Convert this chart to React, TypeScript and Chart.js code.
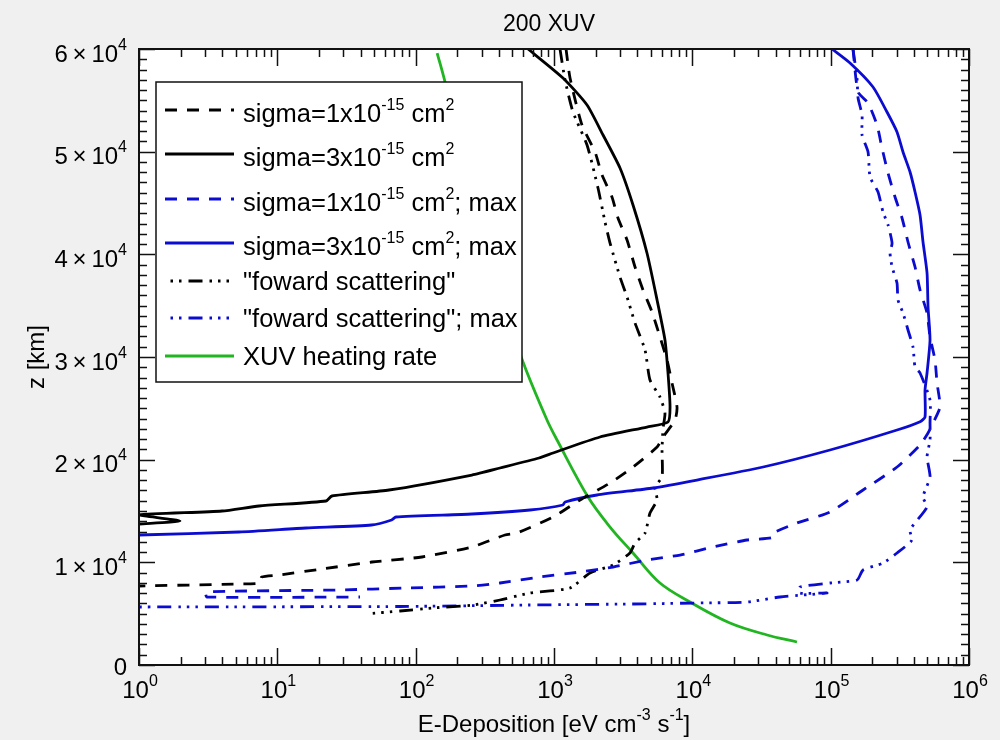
import React, { useEffect, useRef } from 'react';
import { Chart, registerables } from 'chart.js';

Chart.register(...registerables);

// ---------- text ----------
const TITLE = '200 XUV';
const X_TITLE = 'E-Deposition [eV cm^{-3} s^{-1}]';
const Y_TITLE = 'z [km]';

// ---------- ticks ----------
const xMajorTicks = [1, 10, 100, 1000, 10000, 100000, 1000000];
const xTickLabels = ['10^0', '10^1', '10^2', '10^3', '10^4', '10^5', '10^6'];
const xMinorMultipliers = [2, 3, 4, 5, 6, 7, 8, 9];
const yMajorTicks = [0, 10000, 20000, 30000, 40000, 50000, 60000];
const yTickLabels = [
  '0',
  '1\u2009×\u200910^4',
  '2\u2009×\u200910^4',
  '3\u2009×\u200910^4',
  '4\u2009×\u200910^4',
  '5\u2009×\u200910^4',
  '6\u2009×\u200910^4',
];
const yMinorStep = 1000;

// ---------- legend labels ----------
const seriesLabels = [
  'sigma=1x10^{-15} cm^2',
  'sigma=3x10^{-15} cm^2',
  'sigma=1x10^{-15} cm^2; max',
  'sigma=3x10^{-15} cm^2; max',
  '"foward scattering"',
  '"foward scattering"; max',
  'XUV heating rate',
];

// ---------- series (E-deposition, altitude in km) ----------
const sigma1Dep = [1222, 1306, 1593, 1981, 2224, 2625, 2901, 3372, 3853, 4400, 5113, 5837, 6561, 7130, 7748, 7500, 6138, 5560, 3725, 2542, 1542, 984, 540, 442, 255, 111, 48.3, 21.0, 10.3, 7.7, 7.5, 5.28, 1];
const sigma1Alt = [60000, 57174, 52596, 49966, 47726, 45583, 43538, 41395, 38765, 36525, 34382, 31947, 29707, 27467, 25129, 23863, 22207, 21233, 19285, 17727, 16071, 14415, 12857, 12662, 11493, 10519, 10032, 9350, 8766, 8571, 7987, 7890, 7695];

const sigma3Dep = [649, 1161, 1733, 2262, 3000, 3725, 4700, 5560, 6340, 6670, 6900, 6670, 4700, 2150, 984, 779, 407, 255, 64.2, 24.8, 22.5, 7.37, 3.98, 1.0, 1.98, 1.0];
const sigma3Alt = [60000, 57174, 54545, 51622, 48408, 44804, 40129, 35551, 31655, 28441, 25129, 23668, 23181, 22207, 20649, 20162, 19188, 18506, 17045, 16461, 15974, 15487, 15000, 14610, 14026, 13733];

const sigma1MaxDep = [145000, 157800, 186300, 216400, 235000, 259900, 291900, 328000, 362300, 407400, 442700, 497400, 522700, 567700, 587400, 617000, 549400, 505700, 442700, 302000, 171400, 98900, 57100, 38300, 37500, 24800, 14100, 8150, 4700, 2672, 1542, 792, 407, 255, 85, 27.9, 3.05, 3.1, 39.6];
const sigma1MaxAlt = [60000, 55810, 54739, 52596, 50356, 47921, 45583, 43538, 41200, 38765, 36525, 34285, 31947, 29707, 27467, 25129, 23571, 22597, 21428, 19285, 17045, 14902, 13831, 12857, 12400, 12175, 11493, 10714, 10227, 9545, 9058, 8571, 7987, 7695, 7500, 7305, 7110, 6623, 6623];

const sigma3MaxDep = [102300, 138000, 202400, 255400, 301700, 333500, 374800, 407400, 442700, 465200, 497400, 505700, 522700, 497400, 481000, 481000, 442700, 302000, 98900, 32500, 10800, 5200, 2047, 1202, 1161, 671, 255, 72, 67, 48, 16.1, 5.28, 1.0];
const sigma3MaxAlt = [60000, 58635, 56297, 53862, 51914, 49966, 48018, 46070, 43830, 41200, 38181, 34869, 31655, 28441, 26785, 24155, 23700, 22889, 20941, 19285, 18019, 17240, 16558, 15877, 15584, 15097, 14707, 14415, 14123, 13636, 13344, 12954, 12662];

const fwdDep = [1105, 1202, 1372, 1733, 2080, 2338, 2542, 3000, 3372, 3853, 4550, 4943, 5837, 6340, 6138, 6040, 6040, 5370, 5560, 4943, 4550, 3853, 3540, 2672, 1820, 1306, 671, 407, 260, 133, 77, 43.7];
const fwdAlt = [60000, 56978, 53862, 50648, 46460, 43148, 41103, 37791, 35843, 33311, 30681, 27759, 26103, 24545, 23000, 20941, 18311, 17337, 16071, 14805, 12857, 11883, 10909, 9740, 8961, 7500, 7013, 6331, 5844, 5552, 5260, 4967];

const fwdMaxDep = [145000, 155000, 157800, 168600, 168600, 186300, 192600, 220000, 239100, 259900, 277900, 268700, 277900, 301700, 306800, 333500, 362300, 393800, 407400, 442700, 522700, 522700, 522700, 497400, 522700, 465200, 497400, 374800, 387000, 302000, 239300, 171400, 155200, 98900, 60000, 60000, 94200, 43000, 24800, 10800, 3540, 671, 77, 1];
const fwdMaxAlt = [60000, 57174, 55226, 53570, 51622, 49966, 47531, 46070, 44122, 42856, 41103, 40129, 38765, 37207, 35551, 34285, 32629, 30973, 29025, 28441, 25811, 23571, 21915, 20259, 18311, 16363, 15389, 13149, 12175, 10909, 9935, 9253, 8279, 7987, 7597, 7013, 7013, 6623, 6136, 6039, 5941, 5844, 5700, 5650];

const heatDep = [143, 163, 214, 263, 331, 437, 597, 890, 1052, 1762, 2542, 3725, 5837, 9620, 18700, 34700, 57100];
const heatAlt = [59600, 56784, 50000, 45000, 40000, 35000, 29512, 23863, 21915, 16363, 13441, 10909, 7987, 6136, 4091, 2922, 2240];

// ---------- styles ----------
const BLACK = '#000000';
const BLUE = '#0c0cd0';
const GREEN = '#22b522';
const DASH = [12, 10];
const DASH_DOTS = [14, 7, 2.5, 6, 2.5, 6, 2.5, 7];
const FONT = '"Liberation Sans", Arial, Helvetica, sans-serif';

type Seg = { t: string; sup: boolean };
function richParse(s: string): Seg[] {
  const segs: Seg[] = [];
  let buf = '';
  let i = 0;
  while (i < s.length) {
    const c = s[i];
    if (c === '^') {
      if (buf) { segs.push({ t: buf, sup: false }); buf = ''; }
      if (s[i + 1] === '{') {
        const j = s.indexOf('}', i + 2);
        segs.push({ t: s.slice(i + 2, j), sup: true });
        i = j + 1;
      } else {
        segs.push({ t: s[i + 1], sup: true });
        i += 2;
      }
    } else { buf += c; i++; }
  }
  if (buf) segs.push({ t: buf, sup: false });
  return segs;
}

function drawRich(
  ctx: CanvasRenderingContext2D, s: string, x: number, y: number,
  F: number, S: number, R: number, align: 'left' | 'center' | 'right', vmode: 'center' | 'baseline',
  color = '#000'
) {
  const segs = richParse(s);
  const fMain = `${F}px ${FONT}`;
  const fSup = `${S}px ${FONT}`;
  let w = 0;
  const ws = segs.map((sg) => {
    ctx.font = sg.sup ? fSup : fMain;
    const m = ctx.measureText(sg.t).width;
    w += m;
    return m;
  });
  const hasSup = segs.some((sg) => sg.sup);
  const capH = 0.72 * F;
  const top = hasSup ? Math.max(capH, R + 0.72 * S) : capH;
  const baseline = vmode === 'center' ? y + top / 2 : y;
  let sx = align === 'left' ? x : align === 'right' ? x - w : x - w / 2;
  ctx.fillStyle = color;
  ctx.textAlign = 'left';
  ctx.textBaseline = 'alphabetic';
  segs.forEach((sg, k) => {
    ctx.font = sg.sup ? fSup : fMain;
    ctx.fillText(sg.t, sx, sg.sup ? baseline - R : baseline);
    sx += ws[k];
  });
}

const LEGEND_BOX = { left: 156, top: 82, width: 366, height: 300 };
const LEGEND_ROW_Y = [28, 72, 117, 161, 199, 236, 274];

const decor = {
  id: 'decor',
  beforeDraw(chart: any) {
    const { ctx, chartArea: a, width, height } = chart;
    ctx.save();
    ctx.fillStyle = '#f0f0f0';
    ctx.fillRect(0, 0, width, height);
    ctx.fillStyle = '#ffffff';
    ctx.fillRect(a.left, a.top, a.right - a.left, a.bottom - a.top);
    ctx.restore();
  },
  afterDatasetsDraw(chart: any) {
    const { ctx } = chart;
    const b = LEGEND_BOX;
    ctx.save();
    ctx.fillStyle = '#ffffff';
    ctx.fillRect(b.left, b.top, b.width, b.height);
    ctx.strokeStyle = '#111';
    ctx.lineWidth = 1.5;
    ctx.setLineDash([]);
    ctx.strokeRect(b.left, b.top, b.width, b.height);
    chart.data.datasets.forEach((ds: any, i: number) => {
      const y = b.top + LEGEND_ROW_Y[i];
      ctx.save();
      ctx.strokeStyle = ds.borderColor;
      ctx.lineWidth = ds.borderWidth;
      ctx.setLineDash(ds.borderDash || []);
      ctx.lineDashOffset = ds.borderDash === DASH_DOTS ? 24 : 0;
      ctx.beginPath();
      ctx.moveTo(b.left + 9, y);
      ctx.lineTo(b.left + 78, y);
      ctx.stroke();
      ctx.restore();
      drawRich(ctx, ds.label, b.left + 87, y, 25.5, 16, 12, 'left', 'center');
    });
    ctx.restore();
  },
  afterDraw(chart: any) {
    const { ctx, chartArea: a } = chart;
    const xs = chart.scales.x;
    const ys = chart.scales.y;
    ctx.save();
    ctx.strokeStyle = '#111';
    ctx.setLineDash([]);
    // ticks
    ctx.lineWidth = 1.5;
    ctx.beginPath();
    const MAJ = 16;
    const MIN = 8;
    yMajorTicks.forEach((v) => {
      const py = Math.round(ys.getPixelForValue(v)) + 0.5;
      ctx.moveTo(a.left, py); ctx.lineTo(a.left + MAJ, py);
      ctx.moveTo(a.right, py); ctx.lineTo(a.right - MAJ, py);
    });
    for (let v = yMajorTicks[0]; v <= yMajorTicks[yMajorTicks.length - 1]; v += yMinorStep) {
      if (yMajorTicks.includes(v)) continue;
      const py = Math.round(ys.getPixelForValue(v)) + 0.5;
      ctx.moveTo(a.left, py); ctx.lineTo(a.left + MIN, py);
      ctx.moveTo(a.right, py); ctx.lineTo(a.right - MIN, py);
    }
    xMajorTicks.forEach((v) => {
      const px = Math.round(xs.getPixelForValue(v)) + 0.5;
      ctx.moveTo(px, a.bottom); ctx.lineTo(px, a.bottom - MAJ - 1);
      ctx.moveTo(px, a.top); ctx.lineTo(px, a.top + MAJ + 1);
    });
    xMajorTicks.slice(0, -1).forEach((d) => {
      xMinorMultipliers.forEach((m) => {
        const px = Math.round(xs.getPixelForValue(d * m)) + 0.5;
        ctx.moveTo(px, a.bottom); ctx.lineTo(px, a.bottom - MIN);
        ctx.moveTo(px, a.top); ctx.lineTo(px, a.top + MIN);
      });
    });
    ctx.stroke();
    // frame
    ctx.lineWidth = 2;
    ctx.strokeRect(a.left, a.top, a.right - a.left, a.bottom - a.top);
    // tick labels
    yMajorTicks.forEach((v, i) => {
      drawRich(ctx, yTickLabels[i], a.left - 12, ys.getPixelForValue(v) + 1, 24, 16, 12, 'right', 'center');
    });
    xMajorTicks.forEach((v, i) => {
      drawRich(ctx, xTickLabels[i], xs.getPixelForValue(v) + 1, a.bottom + 33, 24, 16, 12, 'center', 'baseline');
    });
    // titles
    drawRich(ctx, TITLE, 549, 31, 23, 15, 11, 'center', 'baseline');
    drawRich(ctx, X_TITLE, (a.left + a.right) / 2, a.bottom + 67, 24, 16, 12, 'center', 'baseline');
    ctx.save();
    ctx.translate(35, (a.top + a.bottom) / 2);
    ctx.rotate(-Math.PI / 2);
    drawRich(ctx, Y_TITLE, 0, 0, 24, 16, 12, 'center', 'center');
    ctx.restore();
    ctx.restore();
  },
};

function pts(xs: number[], zs: number[]) {
  return xs.map((x, i) => ({ x, y: zs[i] }));
}

export default function App() {
  const ref = useRef<HTMLCanvasElement | null>(null);
  useEffect(() => {
    if (!ref.current) return;
    const base = { showLine: true, pointRadius: 0, pointHoverRadius: 0, fill: false, tension: 0.2 };
    const W = 2.8;
    const chart = new Chart(ref.current, {
      type: 'scatter',
      data: {
        datasets: [
          { ...base, label: seriesLabels[0], data: pts(sigma1Dep, sigma1Alt), borderColor: BLACK, borderWidth: W, borderDash: DASH },
          { ...base, label: seriesLabels[1], data: pts(sigma3Dep, sigma3Alt), borderColor: BLACK, borderWidth: W },
          { ...base, label: seriesLabels[2], data: pts(sigma1MaxDep, sigma1MaxAlt), borderColor: BLUE, borderWidth: W, borderDash: DASH },
          { ...base, label: seriesLabels[3], data: pts(sigma3MaxDep, sigma3MaxAlt), borderColor: BLUE, borderWidth: W },
          { ...base, label: seriesLabels[4], data: pts(fwdDep, fwdAlt), borderColor: BLACK, borderWidth: W, borderDash: DASH_DOTS },
          { ...base, label: seriesLabels[5], data: pts(fwdMaxDep, fwdMaxAlt), borderColor: BLUE, borderWidth: W, borderDash: DASH_DOTS },
          { ...base, label: seriesLabels[6], data: pts(heatDep, heatAlt), borderColor: GREEN, borderWidth: W, tension: 0.35 },
        ],
      },
      options: {
        responsive: false,
        animation: false,
        devicePixelRatio: 1,
        events: [],
        layout: { padding: { left: 139, top: 49, right: 31, bottom: 75 } },
        plugins: { legend: { display: false }, title: { display: false }, tooltip: { enabled: false } },
        scales: {
          x: { type: 'logarithmic', min: 1, max: 1000000, display: false },
          y: { type: 'linear', min: 0, max: 60000, display: false },
        },
      },
      plugins: [decor],
    } as any);
    return () => chart.destroy();
  }, []);
  return (
    <div style={{ position: 'fixed', left: 0, top: 0, width: 1000, height: 740, background: '#f0f0f0' }}>
      <canvas ref={ref} width={1000} height={740} style={{ display: 'block', width: 1000, height: 740 }} />
    </div>
  );
}
